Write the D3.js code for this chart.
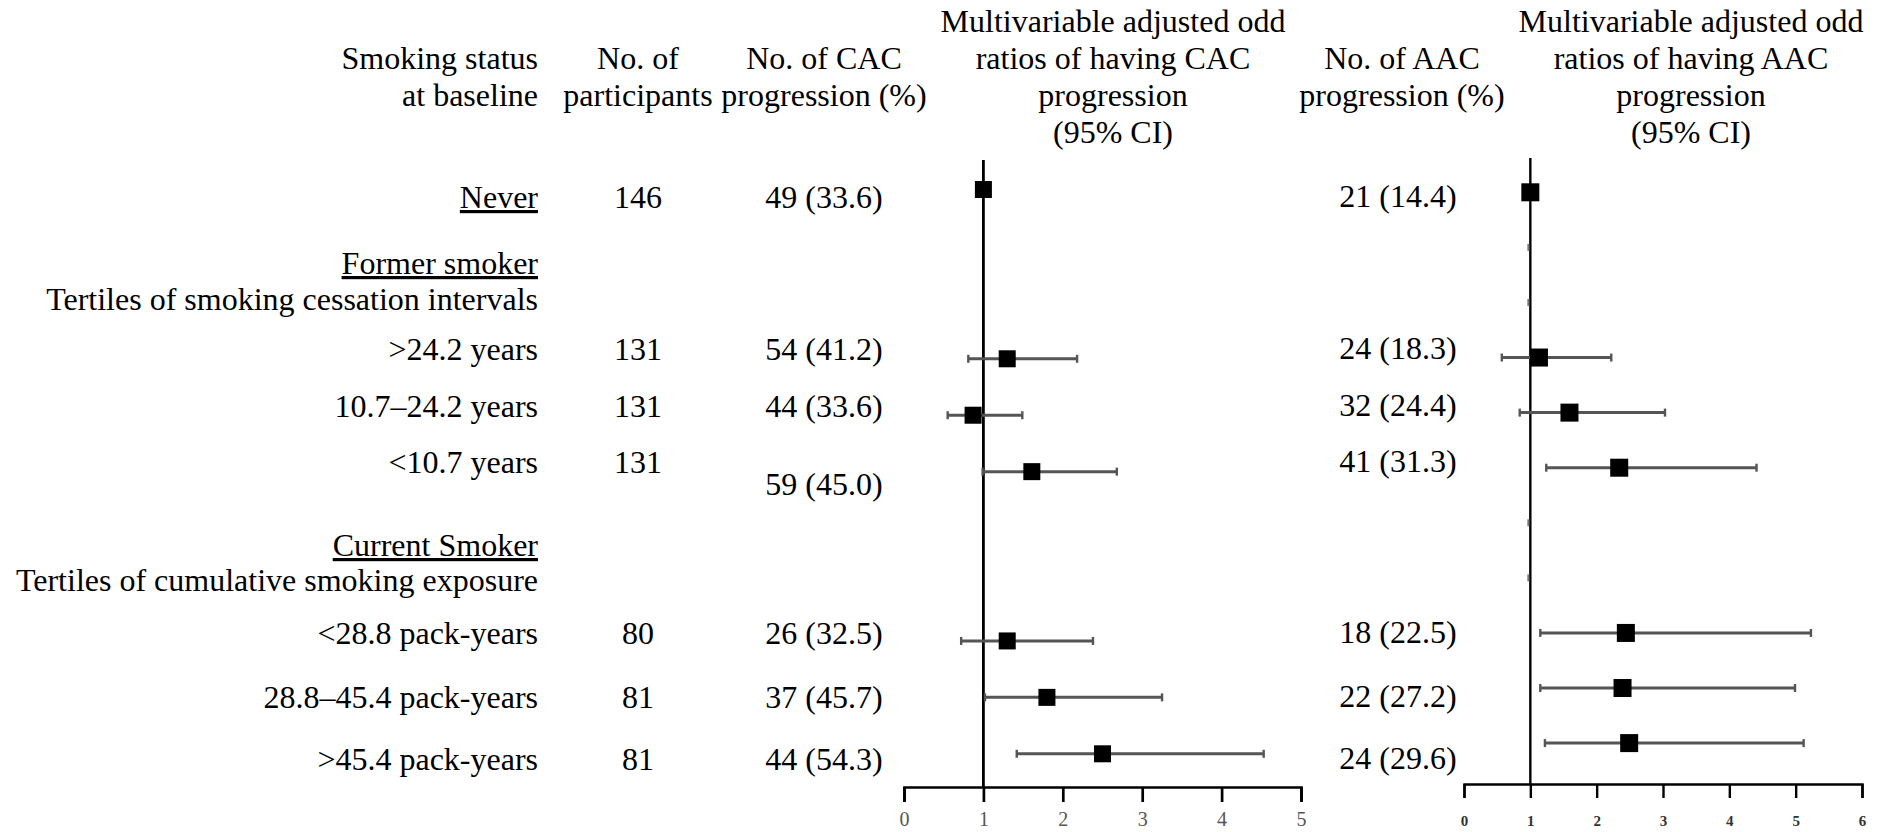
<!DOCTYPE html>
<html>
<head>
<meta charset="utf-8">
<script src="https://cdn.jsdelivr.net/npm/d3@7/dist/d3.min.js"></script>
<style>
  html, body { margin: 0; padding: 0; background: #fff; }
  svg { display: block; }
  text { font-family: "Liberation Serif", "Times New Roman", serif; }
</style>
</head>
<body>
<svg id="chart" width="1883" height="832"></svg>
<script>
// ---------------- DATA ----------------
const rowLabels = [
  "Never",
  "Former smoker",
  "Tertiles of smoking cessation intervals",
  ">24.2 years",
  "10.7–24.2 years",
  "<10.7 years",
  "Current Smoker",
  "Tertiles of cumulative smoking exposure",
  "<28.8 pack-years",
  "28.8–45.4 pack-years",
  ">45.4 pack-years"
];
const underlinedRows = [true, true, false, false, false, false, true, false, false, false, false];
const participants   = ["146", "", "", "131", "131", "131", "", "", "80", "81", "81"];
const cacProgression = ["49 (33.6)", "", "", "54 (41.2)", "44 (33.6)", "59 (45.0)", "", "", "26 (32.5)", "37 (45.7)", "44 (54.3)"];
const aacProgression = ["21 (14.4)", "", "", "24 (18.3)", "32 (24.4)", "41 (31.3)", "", "", "18 (22.5)", "22 (27.2)", "24 (29.6)"];

const cacOR    = [1.00, null, null, 1.30, 0.87, 1.61, null, null, 1.30, 1.80, 2.50];
const cacLower = [null, null, null, 0.81, 0.55, 0.99, null, null, 0.72, 1.02, 1.42];
const cacUpper = [null, null, null, 2.18, 1.49, 2.68, null, null, 2.38, 3.25, 4.53];

const aacOR    = [1.00, null, null, 1.13, 1.59, 2.34, null, null, 2.44, 2.39, 2.49];
const aacLower = [null, null, null, 0.57, 0.84, 1.24, null, null, 1.15, 1.15, 1.22];
const aacUpper = [null, null, null, 2.22, 3.03, 4.41, null, null, 5.23, 4.99, 5.12];

const cacTicks = [0, 1, 2, 3, 4, 5];
const aacTicks = [0, 1, 2, 3, 4, 5, 6];

const headStatus = ["Smoking status", "at baseline"];
const headParticipants = ["No. of", "participants"];
const headCAC = ["No. of CAC", "progression (%)"];
const headCACOR = ["Multivariable adjusted odd", "ratios of having CAC", "progression", "(95% CI)"];
const headAAC = ["No. of AAC", "progression (%)"];
const headAACOR = ["Multivariable adjusted odd", "ratios of having AAC", "progression", "(95% CI)"];

// ---------------- LAYOUT ----------------
const svg = d3.select("#chart");
const FS = 32;
const textRowY = [208, 274, 310, 360, 417, 473, 556, 591, 644, 708, 770];
const cacTextY = textRowY.map((y, i) => i === 5 ? 495 : y);
const rowIdx = d3.range(rowLabels.length);

const xCAC = d3.scaleLinear().domain([0, 5]).range([904, 1301]);
const xAAC = d3.scaleLinear().domain([0, 6]).range([1464, 1862]);
const yCAC = d3.scalePoint().domain(rowIdx).range([189.5, 753.8]);
const yAAC = d3.scalePoint().domain(rowIdx).range([192.3, 743.1]);

// headers
function header(lines, x, anchor, baselines) {
  const t = svg.append("text")
    .attr("text-anchor", anchor)
    .attr("font-size", FS)
    .attr("fill", "#000");
  lines.forEach((l, i) => {
    t.append("tspan").attr("x", x).attr("y", baselines[i]).text(l);
  });
}
header(headStatus, 538, "end", [69, 106]);
header(headParticipants, 638, "middle", [69, 106]);
header(headCAC, 824, "middle", [69, 106]);
header(headCACOR, 1113, "middle", [32, 69, 106, 143]);
header(headAAC, 1402, "middle", [69, 106]);
header(headAACOR, 1691, "middle", [32, 69, 106, 143]);

// table text
svg.append("g").selectAll("text").data(rowIdx).join("text")
  .attr("x", 538).attr("y", i => textRowY[i])
  .attr("text-anchor", "end").attr("font-size", FS).attr("fill", "#000")
  .attr("text-decoration", i => underlinedRows[i] ? "underline" : null)
  .text(i => rowLabels[i]);

svg.append("g").selectAll("text").data(rowIdx.filter(i => participants[i])).join("text")
  .attr("x", 638).attr("y", i => textRowY[i])
  .attr("text-anchor", "middle").attr("font-size", FS).attr("fill", "#000")
  .text(i => participants[i]);

svg.append("g").selectAll("text").data(rowIdx.filter(i => cacProgression[i])).join("text")
  .attr("x", 824).attr("y", i => cacTextY[i])
  .attr("text-anchor", "middle").attr("font-size", FS).attr("fill", "#000")
  .text(i => cacProgression[i]);

svg.append("g").selectAll("text").data(rowIdx.filter(i => aacProgression[i])).join("text")
  .attr("x", 1398).attr("y", i => textRowY[i] - 1)
  .attr("text-anchor", "middle").attr("font-size", FS).attr("fill", "#000")
  .text(i => aacProgression[i]);

// forest panels
function forest(x, y, ticks, or, lo, hi, axisY, opts) {
  const g = svg.append("g");
  // axis
  const axis = d3.axisBottom(x).tickValues(ticks).tickFormat(d3.format("d"))
    .tickSize(opts.tickLen).tickSizeOuter(opts.tickLen).tickPadding(opts.pad);
  const ax = g.append("g").attr("transform", `translate(0,${axisY})`).call(axis);
  ax.select(".domain").attr("stroke", "#000").attr("stroke-width", opts.axisW).attr("fill", "none");
  ax.selectAll(".tick line").attr("stroke", "#000").attr("stroke-width", opts.axisW);
  ax.selectAll(".tick text")
    .attr("font-family", '"Liberation Serif", "Times New Roman", serif')
    .attr("font-size", opts.tickFS)
    .attr("font-weight", opts.tickWeight)
    .attr("fill", opts.tickColor);

  // reference line at 1
  g.append("line")
    .attr("x1", x(1)).attr("x2", x(1))
    .attr("y1", opts.refTop).attr("y2", axisY)
    .attr("stroke", "#000").attr("stroke-width", opts.refW);

  const withCI = rowIdx.filter(i => lo[i] != null && hi[i] != null);
  // CI lines
  g.append("g").selectAll("line").data(withCI).join("line")
    .attr("x1", i => x(lo[i])).attr("x2", i => x(hi[i]))
    .attr("y1", i => y(i)).attr("y2", i => y(i))
    .attr("stroke", "#555").attr("stroke-width", 3);
  // caps
  const caps = [];
  withCI.forEach(i => { caps.push([i, lo[i]]); caps.push([i, hi[i]]); });
  g.append("g").selectAll("line").data(caps).join("line")
    .attr("x1", d => x(d[1])).attr("x2", d => x(d[1]))
    .attr("y1", d => y(d[0]) - 4).attr("y2", d => y(d[0]) + 4)
    .attr("stroke", "#555").attr("stroke-width", 2.4);

  // empty rows marks (only where requested)
  if (opts.emptyMarks) {
    const empty = rowIdx.filter(i => or[i] == null);
    g.append("g").selectAll("line").data(empty).join("line")
      .attr("x1", x(1) - 2).attr("x2", x(1) - 2)
      .attr("y1", i => y(i) - 3.5).attr("y2", i => y(i) + 3.5)
      .attr("stroke", "#777").attr("stroke-width", 2);
  }

  // squares
  const s = opts.sq;
  g.append("g").selectAll("rect").data(rowIdx.filter(i => or[i] != null)).join("rect")
    .attr("x", i => x(or[i]) - s / 2).attr("y", i => y(i) - s / 2)
    .attr("width", s).attr("height", s).attr("fill", "#000");
}

forest(xCAC, yCAC, cacTicks, cacOR, cacLower, cacUpper, 787, {
  tickLen: 15, pad: 10, axisW: 2.7, tickFS: 20, tickWeight: "normal", tickColor: "#555",
  refTop: 160, refW: 2.8, sq: 17, emptyMarks: false
});
forest(xAAC, yAAC, aacTicks, aacOR, aacLower, aacUpper, 784, {
  tickLen: 14, pad: 17, axisW: 2.4, tickFS: 15, tickWeight: "bold", tickColor: "#333",
  refTop: 158, refW: 2.4, sq: 18, emptyMarks: true
});
</script>
</body>
</html>
